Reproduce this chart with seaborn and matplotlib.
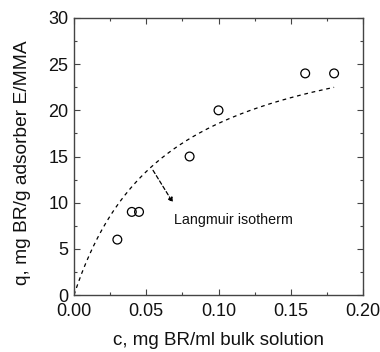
import numpy as np
import pandas as pd
import matplotlib
matplotlib.use("Agg")
import matplotlib.pyplot as plt
import seaborn as sns
from matplotlib.ticker import MultipleLocator

# Equilibrium adsorption data
c_data = [0.03, 0.04, 0.045, 0.08, 0.10, 0.16, 0.18]
q_data = [6, 9, 9, 15, 20, 24, 24]

# Langmuir fit parameters: q = qm*K*c / (1 + K*c)
qm = 30.5
K = 15.6

sns.set_theme(style="ticks")
plt.rcParams["font.family"] = ["Liberation Sans", "DejaVu Sans"]
plt.rcParams["text.color"] = "#111111"
plt.rcParams["axes.labelcolor"] = "#111111"
plt.rcParams["xtick.labelcolor"] = "#111111"
plt.rcParams["ytick.labelcolor"] = "#111111"

fig = plt.figure(figsize=(3.8, 3.52), dpi=100)
ax = fig.add_axes([74 / 380, 1 - 295 / 352, 289 / 380, 277 / 352])

c_fit = np.linspace(0, 0.18, 200)
q_fit = qm * K * c_fit / (1 + K * c_fit)
fit_df = pd.DataFrame({"c": c_fit, "q": q_fit})
sns.lineplot(data=fit_df, x="c", y="q", ax=ax, color="black", lw=0.9,
             linestyle=(0, (3, 3)))

pts = pd.DataFrame({"c": c_data, "q": q_data})
sns.scatterplot(data=pts, x="c", y="q", ax=ax, marker="o", s=40,
                facecolor="none", edgecolor="black", linewidth=0.9, zorder=3)

# Dashed pointer from the fitted curve to its label
ax.annotate("", xy=(0.0685, 10.0), xytext=(0.0547, 13.5),
            arrowprops=dict(arrowstyle="-|>", color="black", lw=0.9,
                            linestyle=(0, (3, 2)), mutation_scale=7,
                            shrinkA=0, shrinkB=0))
ax.text(0.0690, 8.1, "Langmuir isotherm", fontsize=10.3, ha="left", va="center")

ax.set_xlim(0, 0.20)
ax.set_ylim(0, 30)
ax.xaxis.set_major_locator(MultipleLocator(0.05))
ax.xaxis.set_minor_locator(MultipleLocator(0.025))
ax.yaxis.set_major_locator(MultipleLocator(5))
ax.yaxis.set_minor_locator(MultipleLocator(2.5))
ax.set_xticklabels([f"{v:.2f}" for v in ax.get_xticks()])
ax.tick_params(which="both", direction="in", top=True, right=True,
               labelsize=13, color="#444444")
ax.tick_params(axis="x", pad=5.5)
ax.tick_params(axis="y", pad=4)
ax.tick_params(which="major", length=4, width=0.8)
ax.tick_params(which="minor", length=2.5, width=0.8)
for sp in ax.spines.values():
    sp.set_color("#444444")
    sp.set_linewidth(1.0)

ax.set_xlabel("c, mg BR/ml bulk solution", fontsize=13.5)
ax.set_ylabel("q, mg BR/g adsorber E/MMA", fontsize=13.8)
ax.xaxis.set_label_coords(0.5, -0.166)
ax.yaxis.set_label_coords(-0.178, 0.478)
ax.xaxis.label.set_va("center")
ax.yaxis.label.set_va("center")

fig.savefig("out.png", dpi=100, facecolor="white")
